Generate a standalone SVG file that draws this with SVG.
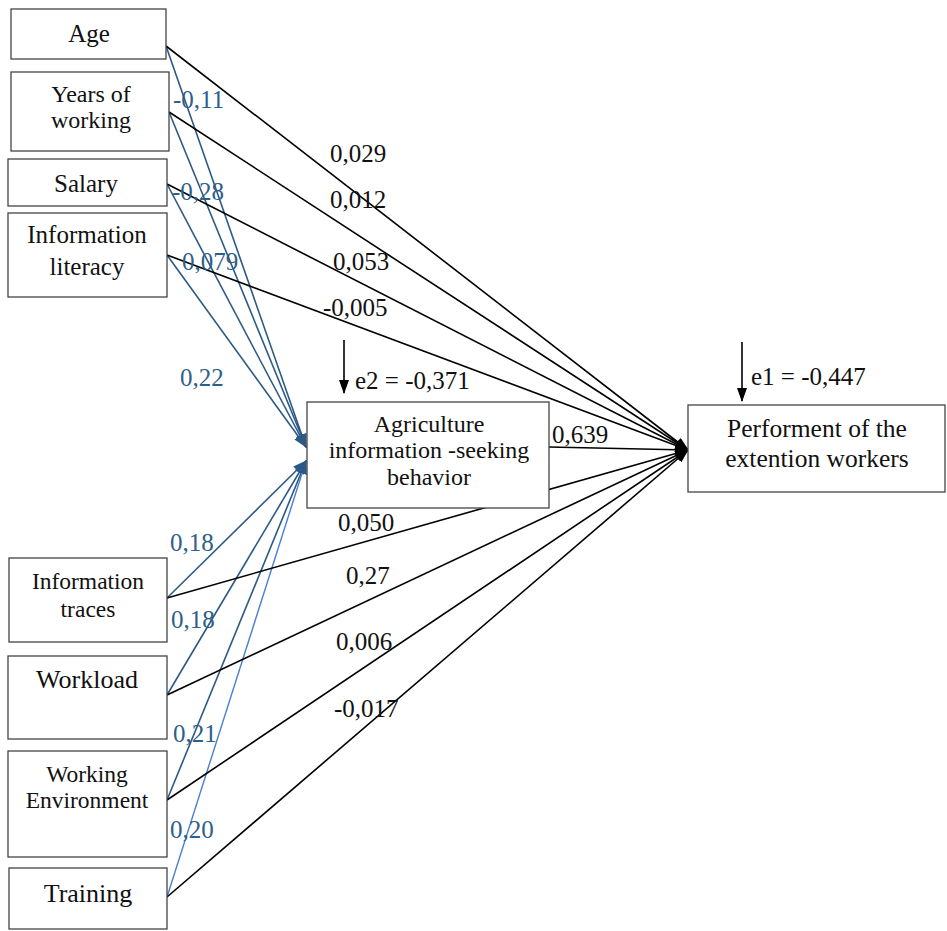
<svg xmlns="http://www.w3.org/2000/svg" width="947" height="931" viewBox="0 0 947 931">
<style>
.box{fill:#fff;stroke:#444;stroke-width:1.3}
.t{font-family:"Liberation Serif","Times New Roman",serif;fill:#111;text-anchor:middle}
.lb{font-family:"Liberation Serif","Times New Roman",serif;font-size:25px;fill:#111}
.lbb{font-family:"Liberation Serif","Times New Roman",serif;font-size:25px;fill:#2e5f8a}
.k{stroke:#000;stroke-width:1.6;fill:none}
.b{stroke:#2c5a86;stroke-width:1.6;fill:none}
.b2{stroke:#4a7fd0;stroke-width:1.4;fill:none}
</style>
<defs>
<marker id="ak" markerWidth="14" markerHeight="10" refX="13" refY="5" orient="auto" markerUnits="userSpaceOnUse"><path d="M0,0 L14,5 L0,10 z" fill="#000"/></marker>
<marker id="ab" markerWidth="14" markerHeight="10" refX="13" refY="5" orient="auto" markerUnits="userSpaceOnUse"><path d="M0,0 L14,5 L0,10 z" fill="#2c5a86"/></marker>
</defs>
<g id="connectors">
<line class="b" x1="166" y1="46" x2="306" y2="447" marker-end="url(#ab)"/>
<line class="b" x1="169" y1="112" x2="306" y2="447" marker-end="url(#ab)"/>
<line class="b" x1="167" y1="184" x2="306" y2="447" marker-end="url(#ab)"/>
<line class="b" x1="167" y1="255" x2="306" y2="447" marker-end="url(#ab)"/>
<line class="b" x1="167" y1="598" x2="306" y2="461" marker-end="url(#ab)"/>
<line class="b" x1="167" y1="695" x2="306" y2="461" marker-end="url(#ab)"/>
<line class="b" x1="167" y1="800" x2="306" y2="461" marker-end="url(#ab)"/>
<line class="b2" x1="167" y1="897" x2="306" y2="461" marker-end="url(#ab)"/>
<line class="k" x1="166" y1="46" x2="688" y2="450" marker-end="url(#ak)"/>
<line class="k" x1="169" y1="112" x2="688" y2="450" marker-end="url(#ak)"/>
<line class="k" x1="167" y1="184" x2="688" y2="450" marker-end="url(#ak)"/>
<line class="k" x1="167" y1="255" x2="688" y2="450" marker-end="url(#ak)"/>
<line class="k" x1="549" y1="447" x2="688" y2="450" marker-end="url(#ak)"/>
<line class="k" x1="167" y1="598" x2="688" y2="450" marker-end="url(#ak)"/>
<line class="k" x1="167" y1="695" x2="688" y2="450" marker-end="url(#ak)"/>
<line class="k" x1="167" y1="800" x2="688" y2="450" marker-end="url(#ak)"/>
<line class="k" x1="167" y1="897" x2="688" y2="450" marker-end="url(#ak)"/>
<line class="k" x1="344" y1="340" x2="344" y2="393" marker-end="url(#ak)"/>
<line class="k" x1="742" y1="342" x2="742" y2="401" marker-end="url(#ak)"/>
</g>
<g id="age"><rect class="box" x="11" y="9" width="155" height="50"/><text class="t" x="89" y="42" font-size="25">Age</text></g>
<g id="years"><rect class="box" x="11" y="72" width="158" height="79"/><text class="t" x="91" y="102" font-size="24">Years of</text><text class="t" x="91" y="128" font-size="24">working</text></g>
<g id="salary"><rect class="box" x="8" y="159" width="159" height="47"/><text class="t" x="86" y="192" font-size="25">Salary</text></g>
<g id="literacy"><rect class="box" x="8" y="213" width="159" height="84"/><text class="t" x="87" y="243" font-size="25">Information</text><text class="t" x="87" y="275" font-size="25">literacy</text></g>
<g id="traces"><rect class="box" x="9" y="558" width="158" height="84"/><text class="t" x="88" y="589" font-size="23.5">Information</text><text class="t" x="88" y="617" font-size="23.5">traces</text></g>
<g id="workload"><rect class="box" x="8" y="656" width="159" height="83"/><text class="t" x="87" y="688" font-size="26">Workload</text></g>
<g id="environment"><rect class="box" x="8" y="751" width="159" height="106"/><text class="t" x="87" y="782" font-size="23.5">Working</text><text class="t" x="87" y="808" font-size="23.5">Environment</text></g>
<g id="training"><rect class="box" x="9" y="868" width="158" height="61"/><text class="t" x="88" y="902" font-size="26">Training</text></g>
<g id="seeking"><rect class="box" x="307" y="402" width="242" height="106"/><text class="t" x="429" y="432" font-size="24">Agriculture</text><text class="t" x="429" y="458" font-size="24">information -seeking</text><text class="t" x="429" y="485" font-size="24">behavior</text></g>
<g id="performance"><rect class="box" x="688" y="405" width="257" height="87"/><text class="t" x="817" y="437" font-size="25.5">Performent of the</text><text class="t" x="817" y="467" font-size="25.5">extention workers</text></g>
<g id="labels">
<text class="lbb" x="173" y="108">-0,11</text>
<text class="lbb" x="172" y="200">-0,28</text>
<text class="lbb" x="182" y="270">0,079</text>
<text class="lbb" x="180" y="386">0,22</text>
<text class="lbb" x="170" y="551">0,18</text>
<text class="lbb" x="171" y="628">0,18</text>
<text class="lbb" x="173" y="742">0,21</text>
<text class="lbb" x="170" y="838">0,20</text>
<text class="lb" x="330" y="162">0,029</text>
<text class="lb" x="330" y="208">0,012</text>
<text class="lb" x="333" y="270">0,053</text>
<text class="lb" x="323" y="316">-0,005</text>
<text class="lb" x="355" y="389">e2 = -0,371</text>
<text class="lb" x="751" y="385">e1 = -0,447</text>
<text class="lb" x="552" y="443">0,639</text>
<text class="lb" x="338" y="531">0,050</text>
<text class="lb" x="346" y="584">0,27</text>
<text class="lb" x="336" y="650">0,006</text>
<text class="lb" x="334" y="717">-0,017</text>
</g>
</svg>
